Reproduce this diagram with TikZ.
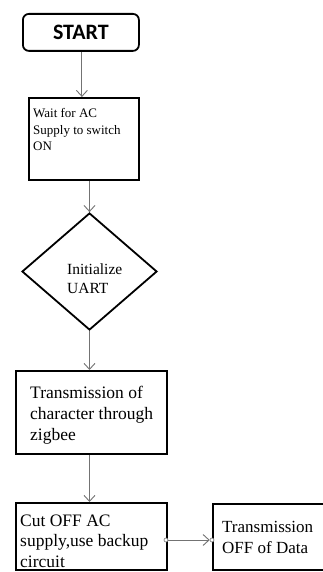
\documentclass[tikz,border=0pt]{standalone}
\usepackage{fontspec}
\setmainfont{Liberation Serif}
\newfontfamily\startfont{Carlito}
\usetikzlibrary{arrows.meta,shapes.geometric}
\begin{document}
\begin{tikzpicture}[x=1pt,y=-1pt,
  box/.style={draw=black, line width=1.8pt, rectangle, inner sep=0pt, anchor=north west},
  lbl/.style={anchor=base west, inner sep=0pt, align=left},
  arr/.style={draw=black!55, line width=0.9pt, -{Straight Barb[length=6pt,width=11pt]}},
  dot/.style={circle, draw=black!55, fill=white, line width=0.6pt, inner sep=0pt, minimum size=4pt}]
\useasboundingbox (0,0) rectangle (323,572);
\fill[white] (0,0) rectangle (323,572);
\begin{scope}
\clip (0,0) rectangle (323,572);
\node[box, rounded corners=6pt, minimum width=116pt, minimum height=37pt] (start) at (22,13) {};
\node[font=\startfont\bfseries\fontsize{22}{26}\selectfont, inner sep=0pt] (starttxt) at (start.center) {START};
\node[box, minimum width=110pt, minimum height=82pt] (wait) at (28,97) {};
\node[lbl, font=\fontsize{13}{16.5}\selectfont] (waittxt) at (33,151) {Wait for AC\\Supply to switch\\ON};
\node[draw, line width=1.8pt, diamond, minimum width=135pt, minimum height=117pt, inner sep=0pt] (dia) at (89.5,271.5) {};
\node[lbl, font=\fontsize{15.5}{18.5}\selectfont] (diatxt) at (67,293) {Initialize\\UART};
\node[box, minimum width=151pt, minimum height=83pt] (trans) at (15,370) {};
\node[lbl, font=\fontsize{17.5}{21}\selectfont] (transtxt) at (30,440) {Transmission of\\character through\\zigbee};
\node[box, minimum width=151pt, minimum height=67pt] (cut) at (15,502) {};
\node[lbl, font=\fontsize{17.5}{20.5}\selectfont] (cuttxt) at (20,567) {Cut OFF AC\\supply,use backup\\circuit};
\node[box, minimum width=125pt, minimum height=66pt] (off) at (212,503) {};
\node[lbl, font=\fontsize{17}{21}\selectfont] (offtxt) at (222,553) {Transmission\\OFF of Data};
\draw[arr] ([xshift=1pt]start.south) -- ([xshift=1pt]start.south |- wait.north);
\draw[arr] (wait.south -| dia.north) -- (dia.north);
\draw[arr] (dia.south) -- (dia.south |- trans.north);
\draw[arr] (trans.south -| dia.south) -- (dia.south |- cut.north);
\node[dot] (d1) at (166,540) {};
\node[dot] (d2) at (212,540) {};
\draw[arr] (d1) -- (d2);
\end{scope}
\end{tikzpicture}
\end{document}
